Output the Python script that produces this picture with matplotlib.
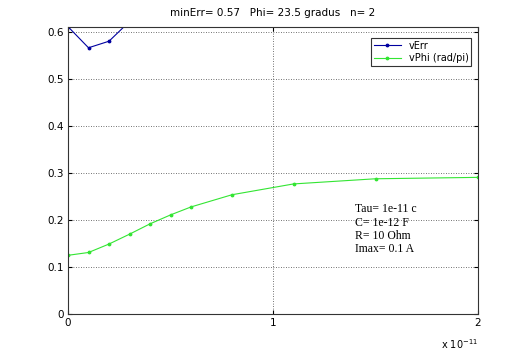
import matplotlib.pyplot as plt

# time points, in units of 1e-11 s
t_err = [0.0, 0.1, 0.2, 0.3, 0.4]
v_err = [0.612, 0.567, 0.581, 0.623, 0.66]

t_phi = [0.0, 0.1, 0.2, 0.3, 0.4, 0.5, 0.6, 0.8, 1.1, 1.5, 2.0]
v_phi = [0.125, 0.131, 0.149, 0.170, 0.192, 0.211, 0.228, 0.254, 0.277, 0.288, 0.291]

title = "minErr= 0.57   Phi= 23.5 gradus   n= 2"
params = "Tau= 1e-11 c\nC= 1e-12 F\nR= 10 Ohm\nImax= 0.1 A"

fig = plt.figure(figsize=(5.28, 3.53), dpi=100)
ax = fig.add_axes([0.1288, 0.1105, 0.7765, 0.814])

ax.plot(t_err, v_err, color="#0000a0", lw=0.8, marker=".", ms=3.5, label="vErr")
ax.plot(t_phi, v_phi, color="#33e533", lw=0.8, marker=".", ms=3.5, label="vPhi (rad/pi)")

ax.set_xlim(0, 2)
ax.set_ylim(0, 0.612)
ax.set_xticks([0, 1, 2])
ax.set_yticks([0, 0.1, 0.2, 0.3, 0.4, 0.5, 0.6])
ax.set_xticklabels(["0", "1", "2"])
ax.set_yticklabels(["0", "0.1", "0.2", "0.3", "0.4", "0.5", "0.6"])
ax.tick_params(direction="in", top=True, right=True, labelsize=7.5, length=3, pad=3)
ax.grid(True, color="#444444", linestyle=(0, (1, 2)), linewidth=0.6)
for s in ax.spines.values():
    s.set_linewidth(0.8)
    s.set_color("#333333")

ax.set_title(title, fontsize=7.5, pad=8)
ax.text(2.0, -0.05, r"x 10$^{-11}$", fontsize=7, ha="right", va="top")
ax.text(1.40, 0.236, params, family="Liberation Serif", fontsize=8.5,
        va="top", ha="left", linespacing=1.15)

leg = ax.legend(loc="upper right", fontsize=7, handlelength=2.8, borderpad=0.3,
                labelspacing=0.25, fancybox=False, framealpha=1, bbox_to_anchor=(0.996, 0.978))
leg.get_frame().set_edgecolor("#333333")
leg.get_frame().set_linewidth(0.8)

fig.savefig("out.png", dpi=100)
